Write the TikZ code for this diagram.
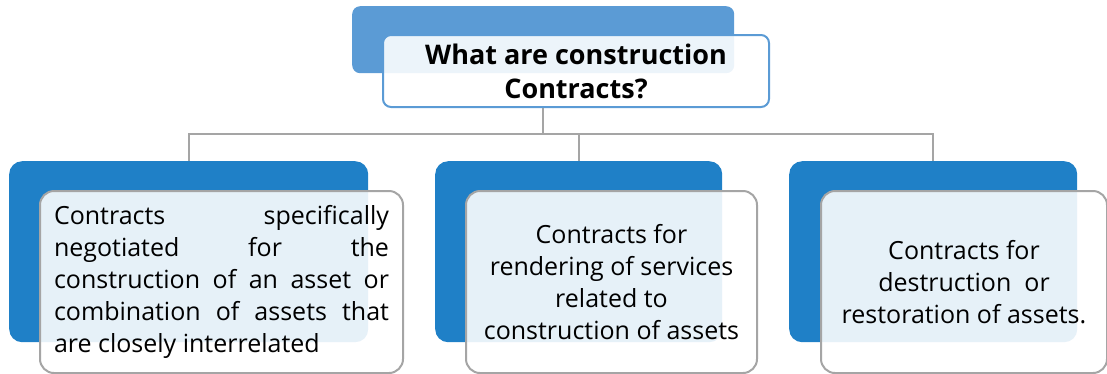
\documentclass[tikz,border=0pt]{standalone}
\usepackage{fontspec}
\setmainfont{Open Sans}
\usetikzlibrary{positioning}

\definecolor{headblue}{HTML}{5B9BD5}
\definecolor{boxblue}{HTML}{1F80C7}
\definecolor{linegray}{HTML}{A5A5A5}

\newcommand{\jline}[1]{\makebox[335pt][s]{#1}}

\tikzset{
  backbox/.style={fill=#1, draw=none, rounded corners=13pt, anchor=north west, inner sep=0pt},
  frontbox/.style={fill=white, fill opacity=0.89, text opacity=1, draw=#1, line width=2pt,
    rounded corners=14pt, anchor=north west, inner sep=0pt, align=center},
  conn/.style={draw=linegray, line width=2pt},
}

\begin{document}
\begin{tikzpicture}[x=1pt, y=-1pt]
    \useasboundingbox (0,0) rectangle (1107,373);

    % Title
    \node[backbox=headblue, rounded corners=8pt, minimum width=382pt, minimum height=67pt] (tback) at (352,6) {};
    \node[frontbox=headblue, rounded corners=8pt, minimum width=386pt, minimum height=72pt,
      font=\fontsize{27}{34}\selectfont\bfseries] (tfront) at (382,34)
      {What are construction\\Contracts?};

    % Back boxes of the children
    \node[backbox=boxblue, minimum width=359pt, minimum height=181pt] (lback) at (9,161) {};
    \node[backbox=boxblue, minimum width=287pt, minimum height=181pt] (mback) at (435,161) {};
    \node[backbox=boxblue, minimum width=288pt, minimum height=181pt] (rback) at (789,161) {};

    % Connectors
    \path (tfront.south -| tback.south) ++(0,26) coordinate (bus);
    \draw[conn] (tfront.south -| tback.south) -- (bus);
    \draw[conn] (bus) -| (lback.north);
    \draw[conn] (bus) -| (mback.north);
    \draw[conn] (bus) -| (rback.north);

    % Child boxes
    \node[frontbox=linegray, minimum width=363pt, minimum height=182pt,
      font=\fontsize{25}{32}\selectfont, align=left] (lfront) at (39,190)
      {\jline{Contracts specifically}\\\jline{negotiated for the}\\
       \jline{construction of an asset or}\\\jline{combination of assets that}\\
       are closely interrelated};
    \node[frontbox=linegray, minimum width=291pt, minimum height=182pt,
      font=\fontsize{25}{32}\selectfont] (mfront) at (465,190)
      {Contracts for\\rendering of services\\related to\\construction of assets};
    \node[frontbox=linegray, minimum width=286pt, minimum height=182pt,
      font=\fontsize{25}{32}\selectfont] (rfront) at (820,190)
      {Contracts for\\destruction~~or\\restoration of assets.};
\end{tikzpicture}
\end{document}
